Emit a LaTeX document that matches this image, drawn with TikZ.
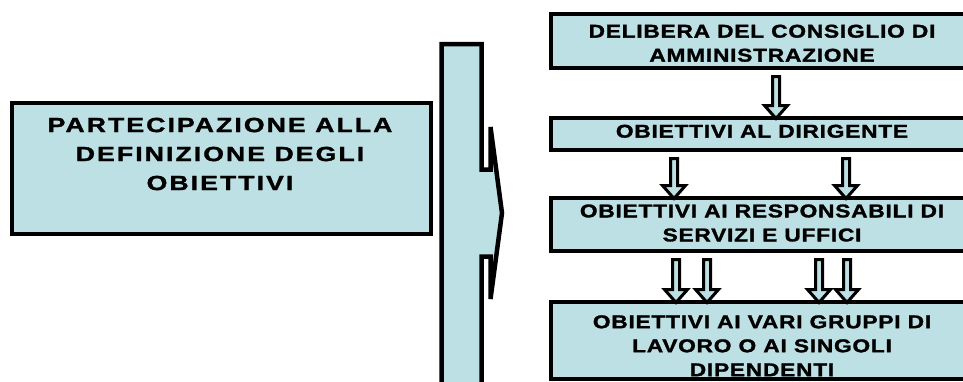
\documentclass[tikz,border=0pt]{standalone}
\usepackage{fontspec}
\usetikzlibrary{calc}

% wide, lightly tracked heavy caps used for the box captions
\newfontfamily\widecaps{Liberation Sans}[FakeStretch=1.3, LetterSpace=10, FakeBold=1.5]
\newfontfamily\narrowcaps{Liberation Sans}[FakeStretch=1.23, LetterSpace=4, FakeBold=1.5]
\definecolor{panel}{RGB}{188,224,228}

\tikzset{
  panel box/.style={draw=black, fill=panel, line width=4pt, inner sep=0pt},
  left text/.style={font=\widecaps\bfseries\fontsize{20.5}{29}\selectfont,
    align=center, inner sep=0pt},
  right text/.style={font=\narrowcaps\bfseries\fontsize{18.5}{24}\selectfont,
    align=center, inner sep=0pt},
  hollow/.style={draw=black, fill=panel, line width=3pt, line join=miter},
  banner/.style={draw=black, fill=panel, line width=4.5pt, line join=miter},
}

% hollow block arrow at horizontal position #1 from node #2 down to node #3
\newcommand\hollowarrow[3]{%
  \filldraw[hollow] let \p1=(#2.south), \p2=(#3.north) in
    (#1pt-3.5pt,\y1-7pt) -- (#1pt+3.5pt,\y1-7pt) -- (#1pt+3.5pt,\y2+10pt)
    -- (#1pt+11.5pt,\y2+10pt) -- (#1pt,\y2-3pt) -- (#1pt-11.5pt,\y2+10pt)
    -- (#1pt-3.5pt,\y2+10pt) -- cycle;}

\begin{document}
\begin{tikzpicture}[x=1pt, y=-1pt]
  \path[use as bounding box, clip] (0,0) rectangle (963,381);

  % left box
  \node[panel box, minimum width=419pt, minimum height=131.5pt] (part) at (221,168.25) {};

  % right column of boxes
  \node[panel box, minimum width=421.5pt, minimum height=53.5pt] (del)  at (761.25,40.75) {};
  \node[panel box, minimum width=421.5pt, minimum height=32pt]   (dir)  at (761.25,133.5) {};
  \node[panel box, minimum width=421.5pt, minimum height=53pt]   (resp) at (761.25,224) {};
  \node[panel box, minimum width=421.5pt, minimum height=77.5pt] (lav)  at (761.25,340.25) {};

  % tall banner with the chevron pointing right
  \filldraw[banner] (441.5,420) -- (441.5,44) -- (481.5,44) -- (481.5,169.5)
    -- (490.5,169.5) -- (490.5,127) -- (502,213) -- (490.5,299)
    -- (490.5,256.5) -- (481.5,256.5) -- (481.5,420) -- cycle;

  % arrows between the levels
  \hollowarrow{776}{del}{dir}
  \hollowarrow{674}{dir}{resp}
  \hollowarrow{846}{dir}{resp}
  \hollowarrow{676}{resp}{lav}
  \hollowarrow{707}{resp}{lav}
  \hollowarrow{819}{resp}{lav}
  \hollowarrow{847}{resp}{lav}

  % captions
  \node[left text] (partt) at (220,154) {PARTECIPAZIONE ALLA\\DEFINIZIONE DEGLI\\OBIETTIVI};
  \node[right text] (delt)  at (762,43.25)  {DELIBERA DEL CONSIGLIO DI\\AMMINISTRAZIONE};
  \node[right text] (dirt)  at (762,131.25) {OBIETTIVI AL DIRIGENTE};
  \node[right text] (respt) at (762,223)    {OBIETTIVI AI RESPONSABILI DI\\SERVIZI E UFFICI};
  \node[right text] (lavt)  at (762,345.75) {OBIETTIVI AI VARI GRUPPI DI\\LAVORO O AI SINGOLI\\DIPENDENTI};
\end{tikzpicture}
\end{document}
